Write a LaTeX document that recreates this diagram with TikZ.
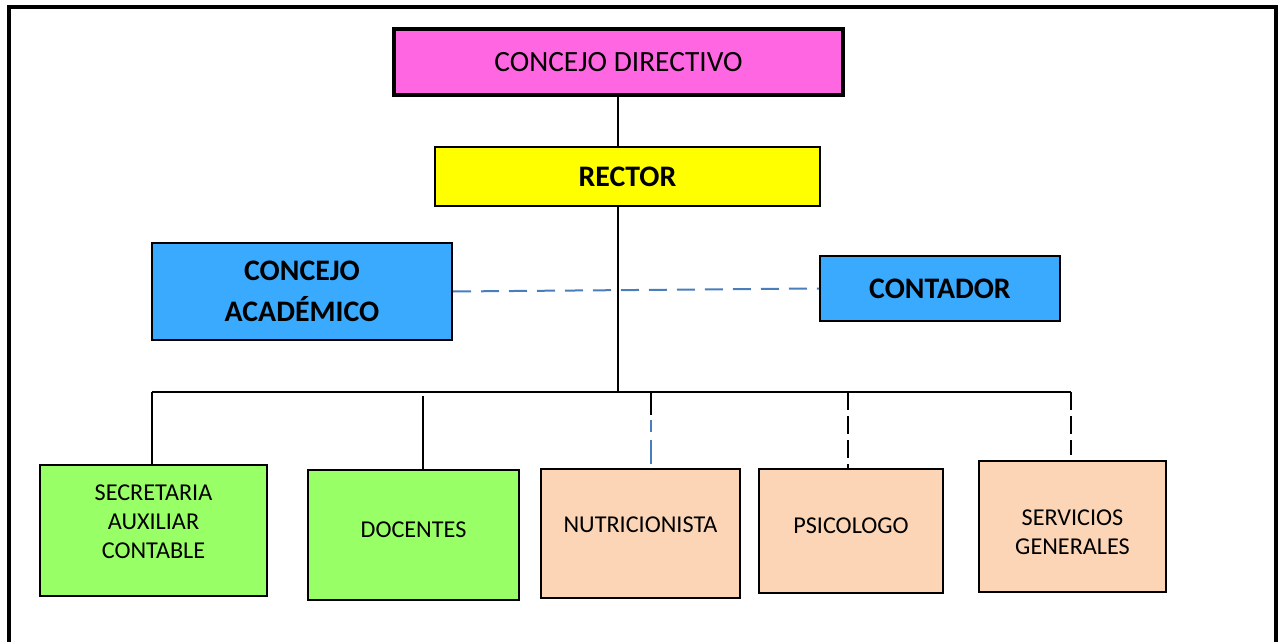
\documentclass[tikz,border=0pt]{standalone}
\usepackage{fontspec}
\setmainfont{Carlito}
\definecolor{rosa}{RGB}{255,102,226}
\definecolor{amarillo}{RGB}{255,255,0}
\definecolor{azul}{RGB}{58,170,255}
\definecolor{verde}{RGB}{153,255,102}
\definecolor{durazno}{RGB}{251,213,181}
\definecolor{linea}{RGB}{74,126,187}
\begin{document}
\begin{tikzpicture}[x=0.5pt,y=-0.5pt,
    caja/.style={draw=black,line width=1pt,inner sep=0pt,align=center},
    grande/.style={font=\fontsize{14.7}{18}\selectfont},
    negrita/.style={font=\fontsize{14.9}{20.5}\selectfont\bfseries},
    chica/.style={font=\fontsize{12.1}{14.5}\selectfont},
    guion/.style={dash pattern=on 9pt off 3pt,line width=0.8pt}]
  \useasboundingbox (0,0) rectangle (1281,642);
  % marco
  \draw[line width=1.6pt] (9,650) -- (9,7) -- (1276,7) -- (1276,650);
  % cajas de arriba
  \node[caja,fill=rosa,line width=1.8pt,grande,minimum width=224.5pt,minimum height=33pt] (dir) at (618.5,62) {CONCEJO DIRECTIVO};
  \node[caja,fill=amarillo,negrita,minimum width=192.5pt,minimum height=29.5pt] (rector) at (627.5,176.5) {RECTOR};
  \node[caja,fill=azul,negrita,minimum width=150pt,minimum height=48.5pt] (acad) at (302,291.5) {CONCEJO\\ACADÉMICO};
  \node[caja,fill=azul,negrita,minimum width=120pt,minimum height=32.5pt] (cont) at (940,288.5) {CONTADOR};
  % cajas de abajo
  \node[caja,fill=verde,chica,text depth=9pt,minimum width=113.5pt,minimum height=65.5pt] (sec) at (153.5,530.5) {SECRETARIA\\AUXILIAR\\CONTABLE};
  \node[caja,fill=verde,chica,text depth=5pt,minimum width=105.5pt,minimum height=65pt] (doc) at (413.5,535) {DOCENTES};
  \node[caja,fill=durazno,chica,text depth=9pt,minimum width=99.5pt,minimum height=64.5pt] (nut) at (640.5,533.5) {NUTRICIONISTA};
  \node[caja,fill=durazno,chica,text depth=5pt,minimum width=92pt,minimum height=62pt] (psic) at (851,531) {PSICOLOGO};
  \node[caja,fill=durazno,chica,minimum width=93.5pt,minimum height=65.5pt] (serv) at (1072.5,526.5) {\rule{0pt}{14pt}SERVICIOS\\GENERALES};
  % puntos de la barra
  \coordinate (bus) at (618,392);
  \coordinate (b1) at (152,392);
  \coordinate (b2) at (423,396);
  \coordinate (b3) at (651,392);
  \coordinate (b4) at (848,392);
  \coordinate (b5) at (1071,392);
  \coordinate (nutmid) at (651,415);
  % conectores
  \draw[line width=0.8pt] (dir.south -| bus) -- (rector.north -| bus);
  \draw[line width=0.8pt] (rector.south -| bus) -- (bus);
  \draw[line width=1.1pt] (b1) -- (b5);
  \draw[line width=0.8pt] (b1) -- (b1 |- sec.north);
  \draw[line width=0.8pt] (b2) -- (b2 |- doc.north);
  \draw[line width=0.8pt] (b3) -- (nutmid);
  \draw[linea,line width=0.8pt,dash pattern=on 6pt off 4pt on 12pt off 2pt] (nutmid) ++(0,5) -- (b3 |- nut.north);
  \draw[guion] (b4) -- (b4 |- psic.north);
  \draw[guion] (b5) -- ([yshift=2.5pt]b5 |- serv.north);
  \draw[linea,line width=1pt,dash pattern=on 9pt off 5pt] (acad.east) -- (cont.west);
\end{tikzpicture}
\end{document}
